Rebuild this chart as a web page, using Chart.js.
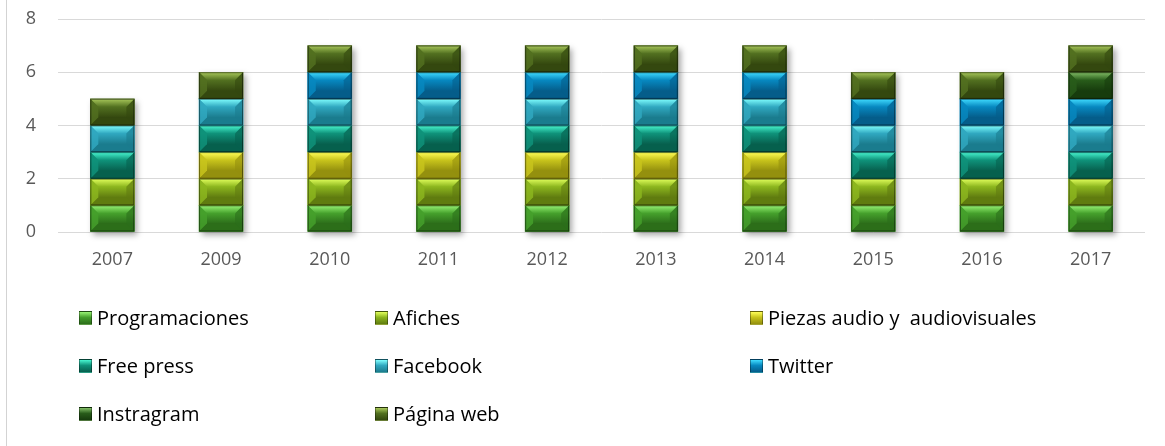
<!DOCTYPE html>
<html>
<head>
<meta charset="utf-8">
<script src="https://cdn.jsdelivr.net/npm/chart.js@4"></script>
<style>
  body { margin: 0; background: #fff; }
  #wrap { position: relative; width: 1165px; height: 446px; overflow: hidden; }
  #frame { position: absolute; left: 6px; top: 0; width: 1px; height: 446px; background: #d3d3d3; }
  #legend { position: absolute; left: 0; top: 0; font-family: "Open Sans", sans-serif; font-size: 20px; color: #000; }
  .item { position: absolute; white-space: pre; line-height: 24px; }
  .box { position: absolute; width: 13px; height: 14px; top: 5px; left: -18px; box-sizing: border-box; border: 1px solid rgba(0,0,0,0.35); }
</style>
</head>
<body>
<div id="wrap">
  <div id="frame"></div>
  <canvas id="chart" width="1165" height="446"></canvas>
  <div id="legend"></div>
</div>
<script>
const years = ["2007", "2009", "2010", "2011", "2012", "2013", "2014", "2015", "2016", "2017"];
const seriesNames = ["Programaciones", "Afiches", "Piezas audio y  audiovisuales", "Free press",
                     "Facebook", "Twitter", "Instragram", "Página web"];

const programaciones = [1, 1, 1, 1, 1, 1, 1, 1, 1, 1];
const afiches        = [1, 1, 1, 1, 1, 1, 1, 1, 1, 1];
const piezas         = [0, 1, 1, 1, 1, 1, 1, 0, 0, 0];
const freePress      = [1, 1, 1, 1, 1, 1, 1, 1, 1, 1];
const facebook       = [1, 1, 1, 1, 1, 1, 1, 1, 1, 1];
const twitter        = [0, 0, 1, 1, 1, 1, 1, 1, 1, 1];
const instragram     = [0, 0, 0, 0, 0, 0, 0, 0, 0, 1];
const paginaWeb      = [1, 1, 1, 1, 1, 1, 1, 1, 1, 1];

const yTicks = [0, 2, 4, 6, 8];

// mid, light (top bevel), dark (bottom bevel)
const palette = [
  ["#45a02c", "#98f474", "#2c6e1a"],
  ["#8cb61e", "#e2ff5c", "#607c10"],
  ["#c8c41c", "#ffff58", "#94900e"],
  ["#0f927a", "#48f6d0", "#07604e"],
  ["#30a8c0", "#80ffff", "#1b7c8e"],
  ["#0788c0", "#40dcff", "#055d8a"],
  ["#285c1a", "#82be66", "#173c0d"],
  ["#527020", "#a8c85a", "#34480f"]
];

const seriesValues = [programaciones, afiches, piezas, freePress, facebook, twitter, instragram, paginaWeb];

const datasets = seriesNames.map((name, i) => ({
  label: name,
  data: seriesValues[i],
  backgroundColor: palette[i][0],
  borderWidth: 0
}));

// soft shadow behind each whole stack
const stackShadow = {
  id: "stackShadow",
  beforeDatasetsDraw(chart) {
    const ctx = chart.ctx;
    const metas = chart.getSortedVisibleDatasetMetas();
    years.forEach((_, idx) => {
      let top = Infinity, bottom = -Infinity, x = 0, w = 0;
      metas.forEach(meta => {
        const el = meta.data[idx];
        if (!el || !meta._dataset.data[idx]) return;
        top = Math.min(top, el.y);
        bottom = Math.max(bottom, el.base);
        x = el.x; w = el.width;
      });
      if (top === Infinity) return;
      ctx.save();
      ctx.shadowColor = "rgba(0,0,0,0.35)";
      ctx.shadowBlur = 6;
      ctx.shadowOffsetX = 3;
      ctx.shadowOffsetY = 3;
      ctx.fillStyle = "#fff";
      ctx.fillRect(x - w / 2, top, w, bottom - top);
      ctx.restore();
    });
  }
};

// bevel look on each bar segment
const bevel = {
  id: "bevel",
  afterDatasetsDraw(chart) {
    const ctx = chart.ctx;
    chart.getSortedVisibleDatasetMetas().forEach(meta => {
      const cols = palette[meta.index];
      meta.data.forEach((el, idx) => {
        if (!meta._dataset.data[idx]) return;
        const L = el.x - el.width / 2, R = el.x + el.width / 2;
        const T = Math.min(el.y, el.base), B = Math.max(el.y, el.base);
        const b = Math.min(8, (B - T) / 3);
        ctx.save();

        let g = ctx.createLinearGradient(0, T + b, 0, B - b);
        g.addColorStop(0, cols[0]);
        g.addColorStop(1, cols[2]);
        ctx.fillStyle = g;
        ctx.fillRect(L, T, R - L, B - T);

        g = ctx.createLinearGradient(0, T, 0, T + b);
        g.addColorStop(0, cols[1]);
        g.addColorStop(1, cols[0]);
        ctx.fillStyle = g;
        ctx.beginPath();
        ctx.moveTo(L, T); ctx.lineTo(R, T); ctx.lineTo(R - b, T + b); ctx.lineTo(L + b, T + b);
        ctx.closePath(); ctx.fill();

        ctx.fillStyle = cols[0];
        ctx.globalAlpha = 0.85;
        ctx.beginPath();
        ctx.moveTo(L, T); ctx.lineTo(L + b, T + b); ctx.lineTo(L + b, B - b); ctx.lineTo(L, B);
        ctx.closePath(); ctx.fill();

        ctx.fillStyle = cols[2];
        ctx.globalAlpha = 0.6;
        ctx.beginPath();
        ctx.moveTo(R, T); ctx.lineTo(R - b, T + b); ctx.lineTo(R - b, B - b); ctx.lineTo(R, B);
        ctx.closePath(); ctx.fill();

        ctx.globalAlpha = 0.9;
        ctx.fillStyle = cols[2];
        ctx.beginPath();
        ctx.moveTo(L, B); ctx.lineTo(R, B); ctx.lineTo(R - b, B - b); ctx.lineTo(L + b, B - b);
        ctx.closePath(); ctx.fill();

        ctx.globalAlpha = 1;
        ctx.strokeStyle = "rgba(0,0,0,0.45)";
        ctx.lineWidth = 1;
        ctx.strokeRect(L + 0.5, T + 0.5, R - L - 1, B - T - 1);
        ctx.restore();
      });
    });
  }
};

const chart = new Chart(document.getElementById("chart"), {
  type: "bar",
  data: { labels: years, datasets },
  options: {
    responsive: false,
    devicePixelRatio: 1,
    animation: false,
    layout: { padding: { left: 0, right: 20, top: 19, bottom: 0 } },
    barThickness: 44,
    plugins: { legend: { display: false }, tooltip: { enabled: false } },
    scales: {
      x: {
        stacked: true,
        grid: { display: false, drawTicks: false },
        border: { display: false },
        ticks: { color: "#595959", font: { family: "Open Sans", size: 18 }, padding: 17 },
        afterFit(scale) { scale.height = 446 - 232; }
      },
      y: {
        stacked: true,
        min: 0,
        max: 8,
        afterBuildTicks(scale) { scale.ticks = yTicks.map(v => ({ value: v })); },
        grid: { color: "#d9d9d9", lineWidth: 1, drawTicks: false },
        border: { display: false },
        ticks: { color: "#595959", font: { family: "Open Sans", size: 18 }, padding: 22 },
        afterFit(scale) {
          scale.width = 58;
          scale.paddingTop = 0;
          scale.paddingBottom = 0;
        }
      }
    }
  },
  plugins: [stackShadow, bevel]
});

// legend: 3 columns, row-major
const colX = [97, 393, 768];
const rowY = [306, 354, 402];
const legend = document.getElementById("legend");
chart.data.datasets.forEach((ds, i) => {
  const cols = palette[i];
  const item = document.createElement("div");
  item.className = "item";
  item.style.left = colX[i % 3] + "px";
  item.style.top = rowY[Math.floor(i / 3)] + "px";
  const box = document.createElement("span");
  box.className = "box";
  box.style.background = "linear-gradient(" + cols[1] + " 0%, " + cols[0] + " 45%, " + cols[2] + " 100%)";
  item.appendChild(box);
  item.appendChild(document.createTextNode(ds.label));
  legend.appendChild(item);
});
</script>
</body>
</html>
